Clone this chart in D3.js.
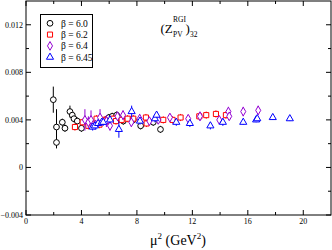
<!DOCTYPE html>
<html>
<head>
<meta charset="utf-8">
<script src="https://cdn.jsdelivr.net/npm/d3@7"></script>
<style>
  body { margin: 0; background: #fff; }
  text { font-family: "Liberation Serif", "DejaVu Serif", serif; }
</style>
</head>
<body>
<div id="chart"></div>
<script>
// chart size
var chart_width = 332;
var chart_height = 250;

// data: [mu^2, value, error]
var beta60 = [
  [1.97, 0.0057, 0.0011], [2.2, 0.0034, 0.0015], [2.2, 0.0021, 0.0005],
  [2.62, 0.0038, 0.0003], [2.81, 0.0033, 0.0003], [3.17, 0.0047, 0.0005],
  [3.34, 0.0044, 0.0003], [3.46, 0.0041, 0.0003], [3.7, 0.0039, 0.0003],
  [4.0, 0.0033, 0.0003], [5.77, 0.0040, 0.0003], [5.98, 0.0042, 0.0003],
  [6.22, 0.0043, 0.0003], [6.54, 0.0044, 0.0003], [6.83, 0.0041, 0.0003],
  [7.02, 0.0039, 0.0003], [7.74, 0.0040, 0.0003], [8.27, 0.0035, 0.0003],
  [9.18, 0.0038, 0.0003], [9.7, 0.0032, 0.0003]
];
var beta62 = [
  [3.53, 0.0034, 0.0003], [4.09, 0.0038, 0.0003], [4.5, 0.0035, 0.0003],
  [4.73, 0.0037, 0.0003], [5.09, 0.0041, 0.0003], [5.3, 0.0036, 0.0003],
  [5.65, 0.0040, 0.0003], [5.86, 0.0039, 0.0003], [6.3, 0.0041, 0.0003],
  [6.49, 0.0039, 0.0003], [6.9, 0.0040, 0.0003], [7.33, 0.0041, 0.0003],
  [7.74, 0.0041, 0.0003], [8.65, 0.0042, 0.0003], [8.7, 0.0037, 0.0003],
  [9.9, 0.0040, 0.0003], [10.57, 0.0040, 0.0003], [11.15, 0.0042, 0.0003],
  [12.5, 0.0043, 0.0003], [13.0, 0.0044, 0.0003], [13.7, 0.0045, 0.0003],
  [14.42, 0.0044, 0.0003]
];
var beta64 = [
  [4.25, 0.0040, 0.0009], [4.5, 0.0038, 0.0005], [4.69, 0.0040, 0.0008],
  [5.0, 0.0036, 0.0004], [5.34, 0.0042, 0.0007], [5.8, 0.0039, 0.0005],
  [6.06, 0.0035, 0.0004], [6.6, 0.0043, 0.0004], [7.0, 0.0044, 0.0004],
  [7.6, 0.0038, 0.0004], [8.2, 0.0041, 0.0004], [8.9, 0.0039, 0.0003],
  [9.54, 0.0040, 0.0003], [10.38, 0.0042, 0.0003], [11.7, 0.0041, 0.0003],
  [12.55, 0.0043, 0.0004], [13.94, 0.0040, 0.0003], [14.6, 0.0047, 0.0004],
  [14.66, 0.0043, 0.0003], [15.67, 0.0047, 0.0004], [16.75, 0.0048, 0.0004]
];
var beta645 = [
  [4.81, 0.0034, 0.0003], [4.97, 0.0035, 0.0003], [5.2, 0.0037, 0.0003],
  [5.46, 0.0038, 0.0003], [5.57, 0.0038, 0.0003], [6.06, 0.0040, 0.0003],
  [6.7, 0.0032, 0.0007], [7.62, 0.0047, 0.0005], [8.22, 0.0039, 0.0003],
  [9.3, 0.0041, 0.0003], [9.42, 0.0044, 0.0003], [10.84, 0.0038, 0.0003],
  [11.82, 0.0037, 0.0003], [13.3, 0.0035, 0.0003], [14.2, 0.0038, 0.0003],
  [15.67, 0.0038, 0.0002], [16.6, 0.0040, 0.0002], [16.68, 0.0041, 0.0002],
  [17.8, 0.0042, 0.0002], [19.03, 0.0041, 0.0002]
];

var series_labels = ["\u03b2 = 6.0", "\u03b2 = 6.2", "\u03b2 = 6.4", "\u03b2 = 6.45"];
var series_colors = ["#000000", "#ff0000", "#9400d3", "#0000ff"];
var series_shapes = ["circle", "square", "diamond", "triangle"];
var x_ticks = [0, 4, 8, 12, 16, 20];
var y_ticks = [-0.004, 0, 0.004, 0.008, 0.012];

var margin = {left: 26, right: 1, top: 1, bottom: 35};
var plot_w = chart_width - margin.left - margin.right;
var plot_h = chart_height - margin.top - margin.bottom;

var x = d3.scaleLinear().domain([0, 22]).range([margin.left, margin.left + plot_w]);
var y = d3.scaleLinear().domain([-0.004, 0.014]).range([margin.top + plot_h, margin.top]);

var svg = d3.select("#chart")
            .append("svg")
            .attr("width", chart_width)
            .attr("height", chart_height);

// frame
svg.append("rect")
    .attr("x", x(0)).attr("y", y(0.014))
    .attr("width", x(22) - x(0)).attr("height", y(-0.004) - y(0.014))
    .attr("fill", "none").attr("stroke", "#000").attr("stroke-width", 1);

// ticks (inward, on all four sides)
var x_minor = d3.range(2, 22, 4);
var y_minor = [-0.002, 0.002, 0.006, 0.010];
var tick_g = svg.append("g").attr("stroke", "#000").attr("stroke-width", 1);
x_ticks.concat(x_minor).forEach(function(t) {
    var len = x_ticks.indexOf(t) >= 0 ? 5 : 3;
    tick_g.append("line").attr("x1", x(t)).attr("x2", x(t))
        .attr("y1", y(-0.004)).attr("y2", y(-0.004) - len);
    tick_g.append("line").attr("x1", x(t)).attr("x2", x(t))
        .attr("y1", y(0.014)).attr("y2", y(0.014) + len);
});
y_ticks.concat(y_minor).forEach(function(t) {
    var len = y_ticks.indexOf(t) >= 0 ? 5 : 3;
    tick_g.append("line").attr("y1", y(t)).attr("y2", y(t))
        .attr("x1", x(0)).attr("x2", x(0) + len);
    tick_g.append("line").attr("y1", y(t)).attr("y2", y(t))
        .attr("x1", x(22)).attr("x2", x(22) - len);
});

// tick labels
svg.selectAll(".xl").data(x_ticks).enter().append("text")
    .attr("x", function(d) { return x(d); })
    .attr("y", y(-0.004) + 9)
    .attr("text-anchor", "middle")
    .attr("font-size", 8)
    .text(function(d) { return d; });

svg.selectAll(".yl").data(y_ticks).enter().append("text")
    .attr("x", x(0) - 3)
    .attr("y", function(d) { return y(d) + 3; })
    .attr("text-anchor", "end")
    .attr("font-size", 8)
    .text(function(d) { return d === 0 ? "0" : d3.format(".3f")(d); });

// axis label
var xlab = svg.append("text")
    .attr("x", 178).attr("y", 245)
    .attr("text-anchor", "middle")
    .attr("font-size", 14);
xlab.append("tspan").text("\u03bc");
xlab.append("tspan").attr("font-size", 9).attr("dy", -6).text("2");
xlab.append("tspan").attr("dy", 6).text(" (GeV");
xlab.append("tspan").attr("font-size", 9).attr("dy", -6).text("2");
xlab.append("tspan").attr("dy", 6).text(")");

// title, pieces placed one by one
var title = svg.append("g").attr("fill", "#000");
title.append("text").attr("x", 160.5).attr("y", 33).attr("font-size", 13).text("(Z");
title.append("text").attr("x", 173).attr("y", 21.5).attr("font-size", 7.5).text("RGI");
title.append("text").attr("x", 173).attr("y", 37).attr("font-size", 7.5).text("PV");
title.append("text").attr("x", 185.5).attr("y", 33).attr("font-size", 13).text(")");
title.append("text").attr("x", 190).attr("y", 36.5).attr("font-size", 7.5).text("32");

// symbols
function symbolPath(shape) {
    if (shape === "circle") return d3.symbol().type(d3.symbolCircle).size(26)();
    if (shape === "square") return d3.symbol().type(d3.symbolSquare).size(26)();
    if (shape === "diamond") return d3.symbol().type(d3.symbolDiamond).size(22)();
    return d3.symbol().type(d3.symbolTriangle).size(22)();
}

var all_series = [beta60, beta62, beta64, beta645];
all_series.forEach(function(data, i) {
    var g = svg.append("g");
    g.selectAll("line").data(data).enter().append("line")
        .attr("x1", function(d) { return x(d[0]); })
        .attr("x2", function(d) { return x(d[0]); })
        .attr("y1", function(d) { return y(d[1] - d[2]); })
        .attr("y2", function(d) { return y(d[1] + d[2]); })
        .attr("stroke", series_colors[i]).attr("stroke-width", 1);
    g.selectAll("path").data(data).enter().append("path")
        .attr("d", symbolPath(series_shapes[i]))
        .attr("transform", function(d) { return "translate(" + x(d[0]) + "," + y(d[1]) + ")"; })
        .attr("fill", "#fff")
        .attr("stroke", series_colors[i]).attr("stroke-width", 1);
});

// legend
var legend = svg.append("g");
legend.append("rect")
    .attr("x", 40.5).attr("y", 14.5).attr("width", 52).attr("height", 53)
    .attr("fill", "#fff").attr("stroke", "#000").attr("stroke-width", 1);
series_labels.forEach(function(lab, i) {
    var ly = 23.3 + i * 11.3;
    legend.append("path")
        .attr("d", symbolPath(series_shapes[i]))
        .attr("transform", "translate(50," + ly + ")")
        .attr("fill", "#fff")
        .attr("stroke", series_colors[i]).attr("stroke-width", 1);
    legend.append("text")
        .attr("x", 61).attr("y", ly + 3.5)
        .attr("font-size", 9.5)
        .text(lab);
});
</script>
</body>
</html>
